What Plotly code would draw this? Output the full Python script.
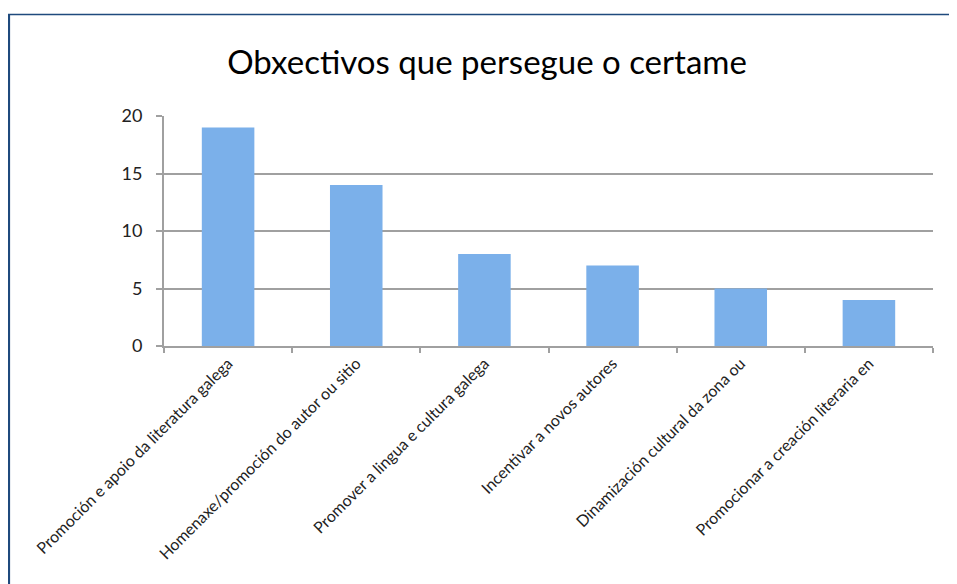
import plotly.graph_objects as go

categories = [
    "Promoción e apoio da literatura galega",
    "Homenaxe/promoción do autor ou sitio",
    "Promover a lingua e cultura galega",
    "Incentivar a novos autores",
    "Dinamización cultural da zona ou",
    "Promocionar a creación literaria en",
]
values = [19, 14, 8, 7, 5, 4]
y_ticks = [0, 5, 10, 15, 20]
title_text = "Obxectivos que persegue o certame"

FONT = "Lato"

fig = go.Figure()
fig.add_trace(go.Bar(
    x=categories,
    y=values,
    width=0.41,
    marker=dict(color="#7bb0ea", line=dict(width=0)),
    hoverinfo="x+y",
))

# page body has an 8px margin, so the figure starts at page (8, 8)
OFF = 8
W, H = 957 - OFF, 584 - OFF
ml, mr, mt, mb = 164 - OFF, 24, 116 - OFF, 238
pw, ph = W - ml - mr, H - mt - mb

def px_x(p):
    return (p - OFF - ml) / pw

def px_y(p):
    return (H - mb - (p - OFF)) / ph

frame_color = "#1f4a7d"
shapes = [
    dict(type="line", xref="paper", yref="paper",
         x0=px_x(8), x1=px_x(960), y0=px_y(14.5), y1=px_y(14.5),
         line=dict(color=frame_color, width=1.6)),
    dict(type="line", xref="paper", yref="paper",
         x0=px_x(9), x1=px_x(9), y0=px_y(14), y1=px_y(590),
         line=dict(color=frame_color, width=2.2)),
]

fig.update_layout(
    width=W, height=H,
    margin=dict(l=ml, r=mr, t=mt, b=mb),
    paper_bgcolor="white",
    plot_bgcolor="white",
    showlegend=False,
    title=dict(text=title_text, x=(487 - OFF) / W, xref="container", xanchor="center",
               y=1 - (62 - OFF) / H, yref="container", yanchor="middle",
               font=dict(family=FONT, size=33, color="#000000")),
    font=dict(family=FONT, color="#222222"),
    shapes=shapes,
    xaxis=dict(
        type="category",
        tickangle=-45,
        tickfont=dict(family=FONT, size=16, color="#222222"),
        showgrid=False,
        showline=True, linecolor="#a0a0a0", linewidth=2,
        ticks="outside", tickson="boundaries", ticklen=5,
        tickcolor="#a0a0a0", tickwidth=2,
        range=[-0.5, 5.5],
    ),
    yaxis=dict(
        range=[0, 20],
        tickvals=y_ticks,
        tickfont=dict(family=FONT, size=18, color="#222222"),
        showgrid=True, gridcolor="#a0a0a0", gridwidth=2,
        showline=True, linecolor="#a0a0a0", linewidth=2,
        ticks="outside", ticklen=6, tickcolor="#a0a0a0", tickwidth=2,
        ticklabelstandoff=10,
        zeroline=False,
    ),
)

fig.write_html("out.html")
